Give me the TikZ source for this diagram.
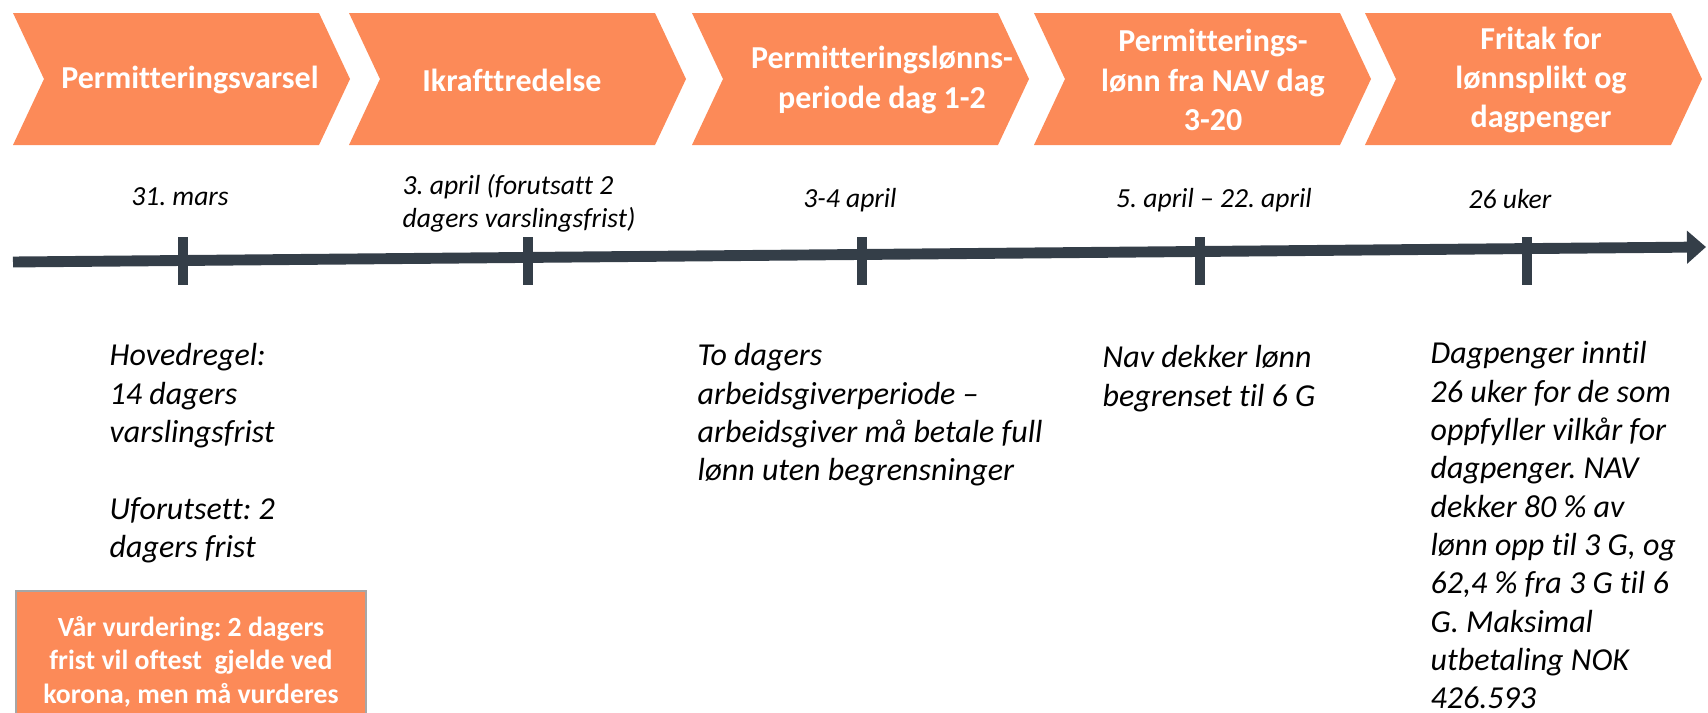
\documentclass[tikz,border=0pt]{standalone}
\usepackage{fontspec}
\setmainfont{Carlito}[Ligatures={TeX,NoCommon}]
\usetikzlibrary{arrows.meta}
\definecolor{oransje}{RGB}{252,138,88}
\definecolor{skifer}{RGB}{52,62,72}
\frenchspacing

\begin{document}
\begin{tikzpicture}[
        chevtekst/.style={text=white, font=\bfseries\fontsize{9.1}{11.2}\selectfont, align=center, inner sep=0pt},
        dato/.style={font=\itshape\fontsize{7.85}{9.4}\selectfont, inner sep=0pt},
        tekst/.style={font=\itshape\fontsize{9.1}{10.9}\selectfont, anchor=north west, align=left, inner sep=0pt},
        akse/.style={skifer, line width=3.1pt, -{Triangle[length=1.9mm, width=3.2mm]}},
        strek/.style={skifer, line width=2.8pt}
    ]
        \useasboundingbox (0, 0) rectangle (17.08, -7.13);
        \clip (0, 0) rectangle (17.08, -7.13);

        % Faser (chevrons)
        \foreach \x/\tx/\n/\t in {0.13/1.90/varsel/{Permitteringsvarsel},
                                 3.49/5.12/ikraft/{Ikrafttredelse},
                                 6.92/8.82/lonn/{Permitteringslønns-\\periode dag 1-2},
                                 10.34/12.13/nav/{Permitterings-\\lønn fra NAV dag\\3-20},
                                 13.65/15.41/fritak/{Fritak for\\lønnsplikt og\\dagpenger}} {
            \fill [oransje] (\x, -0.13) -- ++(3.06, 0) -- ++(0.31, -0.66) -- ++(-0.31, -0.66)
                -- ++(-3.06, 0) -- ++(0.31, 0.66) -- cycle;
            \node [chevtekst] (\n) at (\tx, -0.80) {\t};
        }

        % Datoer
        \node [dato] (d1) at (1.80, -1.97) {31. mars};
        \node [dato, anchor=west, align=left] (d2) at (4.02, -2.03) {3. april (forutsatt 2\\dagers varslingsfrist)};
        \node [dato] (d3) at (8.50, -2.00) {3-4 april};
        \node [dato] (d4) at (12.14, -2.00) {5. april – 22. april};
        \node [dato] (d5) at (15.10, -1.99) {26 uker};

        % Tidslinje
        \coordinate (start) at (0.13, -2.62);
        \coordinate (slutt) at (17.06, -2.47);
        \draw [akse] (start) -- (slutt);
        \foreach \x in {1.83, 5.28, 8.62, 12.00, 15.27} {
            \draw [strek] (\x, -2.37) -- (\x, -2.85);
        }

        % Beskrivelser
        \node [tekst] (hoved) at (1.09, -3.43) {Hovedregel:\\14 dagers\\varslingsfrist\\[10.9pt]Uforutsett: 2\\dagers frist};
        \node [tekst] (arbgiver) at (6.97, -3.43) {To dagers\\arbeidsgiverperiode –\\arbeidsgiver må betale full\\lønn uten begrensninger};
        \node [tekst] (navlonn) at (11.02, -3.45) {Nav dekker lønn\\begrenset til 6 G};
        \node [tekst] (dagpenger) at (14.30, -3.41) {Dagpenger inntil\\26 uker for de som\\oppfyller vilkår for\\dagpenger. NAV\\dekker 80 \% av\\lønn opp til 3 G, og\\62,4 \% fra 3 G til 6\\G. Maksimal\\utbetaling NOK\\426.593};

        % Vurdering
        \filldraw [fill=oransje, draw=gray!70, line width=0.4pt] (0.16, -5.91) rectangle (3.66, -7.60);
        \node [text=white, font=\bfseries\fontsize{7.9}{9.5}\selectfont, align=center, inner sep=0pt] (vurd) at (1.91, -6.615)
            {Vår vurdering: 2 dagers\\frist vil oftest\ \ gjelde ved\\korona, men må vurderes};
\end{tikzpicture}
\end{document}
